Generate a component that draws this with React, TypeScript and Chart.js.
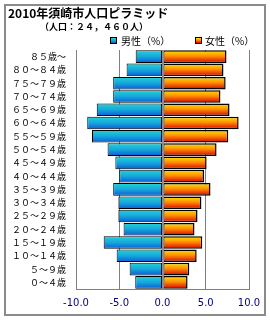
import React, { useEffect, useRef } from "react";
import { Chart, registerables } from "chart.js";

Chart.register(...registerables);

const chartTitle = "2010年須崎市人口ピラミッド";
const chartSubtitle = "（人口：２４，４６０人）";
const maleLabel = "男性（%）";
const femaleLabel = "女性（%）";

const ageGroups = [
  "８５歳～", "８０～８４歳", "７５～７９歳", "７０～７４歳", "６５～６９歳",
  "６０～６４歳", "５５～５９歳", "５０～５４歳", "４５～４９歳", "４０～４４歳",
  "３５～３９歳", "３０～３４歳", "２５～２９歳", "２０～２４歳", "１５～１９歳",
  "１０～１４歳", "５～９歳", "０～４歳",
];
const malePct = [3.1, 4.15, 5.7, 5.7, 7.6, 8.7, 8.15, 6.35, 5.45, 5.0, 5.7, 5.1, 5.1, 4.5, 6.8, 5.3, 3.8, 3.15];
const femalePct = [7.4, 7.05, 7.3, 6.7, 7.75, 8.8, 7.6, 6.25, 5.1, 4.8, 5.55, 4.5, 4.05, 3.7, 4.6, 3.95, 3.1, 2.9];
const xTicks = [-10, -5, 0, 5, 10];

const BAR_PCT = 0.95;
const maleStops: [number, string][] = [[0, "#22d4d4"], [0.5, "#16a6dc"], [1, "#0a5cd6"]];
const femaleStops: [number, string][] = [[0, "#ffe400"], [0.45, "#ff9000"], [1, "#d80000"]];

const makeGrad = (stops: [number, string][]) => (c: any) => {
  const chart = c.chart;
  const ys = chart.scales && chart.scales.y;
  if (!ys || c.dataIndex == null || !chart.chartArea) return stops[1][1];
  const center = ys.getPixelForValue(c.dataIndex);
  const half = (ys.height / ageGroups.length) * BAR_PCT / 2;
  const g = chart.ctx.createLinearGradient(0, center - half, 0, center + half);
  stops.forEach(([o, col]) => g.addColorStop(o, col));
  return g;
};

const zeroLine = {
  id: "zeroLine",
  afterDatasetsDraw(chart: any) {
    const { ctx, chartArea, scales } = chart;
    const x = Math.round(scales.x.getPixelForValue(0));
    ctx.save();
    ctx.strokeStyle = "#8c8c8c";
    ctx.lineWidth = 2;
    ctx.beginPath();
    ctx.moveTo(x, chartArea.top);
    ctx.lineTo(x, chartArea.bottom);
    ctx.stroke();
    ctx.restore();
  },
};

const cssGrad = (stops: [number, string][]) =>
  `linear-gradient(to bottom, ${stops.map(([o, c]) => `${c} ${o * 100}%`).join(", ")})`;

export default function App() {
  const ref = useRef<HTMLCanvasElement | null>(null);

  useEffect(() => {
    if (!ref.current) return;
    const chart = new Chart(ref.current, {
      type: "bar",
      data: {
        labels: ageGroups,
        datasets: [
          {
            label: maleLabel,
            data: malePct.map((v) => -v),
            backgroundColor: makeGrad(maleStops),
            borderColor: "#000",
            borderWidth: 1,
            borderSkipped: false,
            barPercentage: BAR_PCT,
            categoryPercentage: 1,
          },
          {
            label: femaleLabel,
            data: femalePct,
            backgroundColor: makeGrad(femaleStops),
            borderColor: "#000",
            borderWidth: 1.5,
            borderSkipped: false,
            barPercentage: BAR_PCT,
            categoryPercentage: 1,
          },
        ],
      },
      options: {
        indexAxis: "y",
        responsive: false,
        animation: false,
        devicePixelRatio: 1,
        layout: { padding: { top: 50, right: 21, bottom: 0, left: 0 } },
        plugins: {
          legend: { display: false },
          tooltip: { enabled: false },
          title: { display: false },
        },
        scales: {
          x: {
            min: -10,
            max: 10,
            stacked: true,
            afterBuildTicks: (s: any) => {
              s.ticks = xTicks.map((v) => ({ value: v }));
            },
            afterFit: (s: any) => {
              s.height = 31;
            },
            ticks: {
              padding: 8,
              color: "#000080",
              font: { family: "'DejaVu Sans'", size: 10 },
              callback: (v: any) => Number(v).toFixed(1),
            },
            grid: { color: "#808080", lineWidth: 1, drawTicks: false },
            border: { color: "#808080", width: 1 },
          },
          y: {
            stacked: true,
            afterFit: (s: any) => {
              s.width = 76;
            },
            ticks: {
              padding: 10,
              color: "#000",
              font: { family: "'Noto Sans CJK JP'", size: 9 },
              autoSkip: false,
            },
            grid: { display: false, drawTicks: false },
            border: { display: true, color: "#808080", width: 1 },
          },
        },
      },
      plugins: [zeroLine],
    } as any);
    return () => chart.destroy();
  }, []);

  const jp = "'Noto Sans CJK JP', sans-serif";

  return (
    <div style={{ position: "fixed", left: 0, top: 0, width: 270, height: 320, background: "#fff", overflow: "hidden" }}>
      <canvas ref={ref} width={270} height={320} style={{ position: "absolute", left: 0, top: 0, width: 270, height: 320, display: "block" }} />
      <div style={{ position: "absolute", left: 4, top: 4, width: 262, height: 312, border: "2px solid #8a8a8a", boxSizing: "border-box", pointerEvents: "none" }} />
      <div style={{ position: "absolute", left: 8, top: 6, fontFamily: jp, fontWeight: 700, fontSize: 12, lineHeight: "13px", whiteSpace: "nowrap", color: "#000" }}>
        {chartTitle}
      </div>
      <div style={{ position: "absolute", left: 40, top: 22, fontFamily: jp, fontWeight: 700, fontSize: 9, lineHeight: "10px", whiteSpace: "nowrap", color: "#000" }}>
        {chartSubtitle}
      </div>
      <div style={{ position: "absolute", left: 110, top: 37, width: 7, height: 7, boxSizing: "border-box", border: "1px solid #000", background: cssGrad(maleStops) }} />
      <div style={{ position: "absolute", left: 121, top: 35, fontFamily: jp, fontSize: 10, lineHeight: "11px", whiteSpace: "nowrap", color: "#000" }}>
        {maleLabel}
      </div>
      <div style={{ position: "absolute", left: 195, top: 37, width: 7, height: 7, boxSizing: "border-box", border: "1px solid #000", background: cssGrad(femaleStops) }} />
      <div style={{ position: "absolute", left: 205, top: 35, fontFamily: jp, fontSize: 10, lineHeight: "11px", whiteSpace: "nowrap", color: "#000" }}>
        {femaleLabel}
      </div>
    </div>
  );
}
